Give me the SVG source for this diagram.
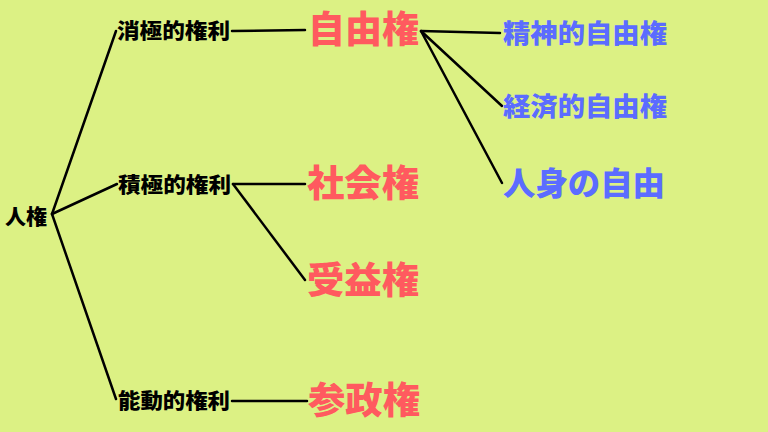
<svg xmlns="http://www.w3.org/2000/svg" width="768" height="432" viewBox="0 0 768 432">
<style>
text{font-family:"Noto Sans CJK JP","Noto Sans CJK SC",sans-serif;font-weight:900}
.k{fill:#000;font-size:21px}
.r{fill:#ff5a5f;font-size:37px}
.b{fill:#5b6cff;font-size:26px}
.b2{fill:#5b6cff;font-size:32px}
.c line{stroke:#000;stroke-width:2.5;stroke-linecap:round}
</style>
<rect width="768" height="432" fill="#dcf184"/>
<g class="c" id="connectors">
<line x1="52" y1="214" x2="116" y2="31"/>
<line x1="52" y1="214" x2="117" y2="184"/>
<line x1="52" y1="214" x2="116" y2="399"/>
<line x1="232" y1="31" x2="305" y2="30"/>
<line x1="233" y1="184" x2="305" y2="184"/>
<line x1="233" y1="184" x2="305" y2="280"/>
<line x1="232" y1="401" x2="307" y2="401"/>
<line x1="421" y1="31" x2="500" y2="33"/>
<line x1="421" y1="31" x2="502" y2="106"/>
<line x1="421" y1="31" x2="502" y2="183"/>
</g>
<g id="n-jinken"><text class="k" x="5" y="224">人権</text></g>
<g id="n-shokyoku"><text class="k" x="117" y="38" textLength="113" lengthAdjust="spacingAndGlyphs">消極的権利</text></g>
<g id="n-sekkyoku"><text class="k" x="118" y="192" textLength="113" lengthAdjust="spacingAndGlyphs">積極的権利</text></g>
<g id="n-nodo"><text class="k" x="118" y="408" textLength="112" lengthAdjust="spacingAndGlyphs">能動的権利</text></g>
<g id="n-jiyuken"><text class="r" x="308" y="43" textLength="111" lengthAdjust="spacingAndGlyphs">自由権</text></g>
<g id="n-shakaiken"><text class="r" x="307" y="197" textLength="112" lengthAdjust="spacingAndGlyphs">社会権</text></g>
<g id="n-juekiken"><text class="r" x="307" y="294" textLength="112" lengthAdjust="spacingAndGlyphs">受益権</text></g>
<g id="n-seiseiken"><text class="r" x="308" y="414" textLength="112" lengthAdjust="spacingAndGlyphs">参政権</text></g>
<g id="n-seishin"><text class="b" x="503" y="43" textLength="164" lengthAdjust="spacingAndGlyphs">精神的自由権</text></g>
<g id="n-keizai"><text class="b" x="503" y="116" textLength="164" lengthAdjust="spacingAndGlyphs">経済的自由権</text></g>
<g id="n-jinshin"><text class="b2" x="503" y="195" textLength="162" lengthAdjust="spacingAndGlyphs">人身の自由</text></g>
</svg>
